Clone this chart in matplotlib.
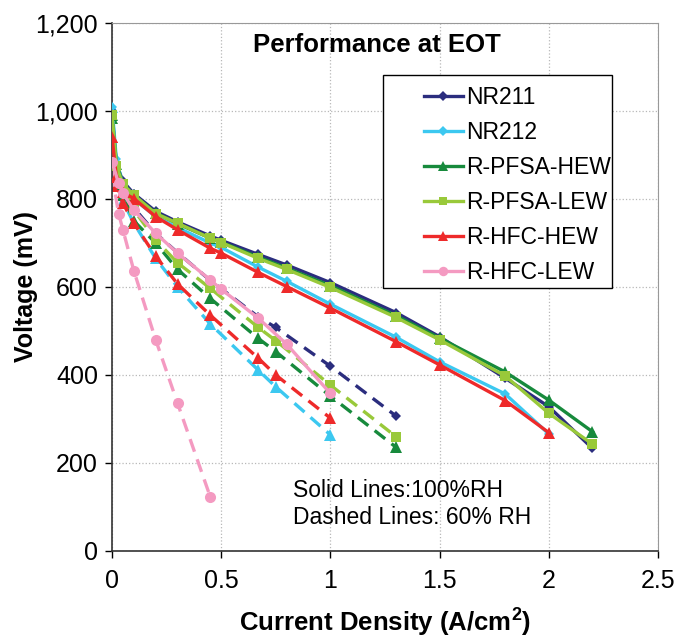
import matplotlib
matplotlib.use("Agg")
import matplotlib.pyplot as plt
from matplotlib.ticker import FuncFormatter, MultipleLocator
from matplotlib.lines import Line2D
from matplotlib.patches import Rectangle

plt.rcParams['font.family'] = ['Liberation Sans', 'DejaVu Sans']
plt.rcParams['mathtext.default'] = 'regular'

names = ["NR211", "NR212", "R-PFSA-HEW", "R-PFSA-LEW", "R-HFC-HEW", "R-HFC-LEW"]
colors = ["#2B2D7E", "#3CC8F0", "#178A3C", "#99C93A", "#EE2A2A", "#F49AC1"]
markers = ["D", "D", "^", "s", "^", "o"]

# 100% RH (solid)
x_solid = [
    [0, 0.02, 0.05, 0.1, 0.2, 0.3, 0.45, 0.5, 0.67, 0.8, 1.0, 1.3, 1.5, 1.8, 2.0, 2.2],
    [0, 0.02, 0.05, 0.1, 0.2, 0.3, 0.45, 0.5, 0.67, 0.8, 1.0, 1.3, 1.5, 1.8, 2.0],
    [0, 0.02, 0.05, 0.1, 0.2, 0.3, 0.45, 0.5, 0.67, 0.8, 1.0, 1.3, 1.5, 1.8, 2.0, 2.2],
    [0, 0.02, 0.05, 0.1, 0.2, 0.3, 0.45, 0.5, 0.67, 0.8, 1.0, 1.3, 1.5, 1.8, 2.0, 2.2],
    [0, 0.02, 0.05, 0.1, 0.2, 0.3, 0.45, 0.5, 0.67, 0.8, 1.0, 1.3, 1.5, 1.8, 2.0],
    [0, 0.03, 0.05, 0.1, 0.2, 0.3, 0.45, 0.5, 0.67, 0.8, 1.0],
]
v_solid = [
    [1000, 880, 840, 812, 772, 748, 716, 706, 674, 650, 610, 542, 487, 393, 328, 233],
    [1010, 890, 830, 800, 760, 735, 700, 690, 645, 613, 561, 486, 430, 357, 266],
    [990, 880, 835, 808, 768, 744, 711, 702, 668, 643, 603, 535, 484, 407, 343, 271],
    [991, 875, 833, 809, 767, 745, 711, 701, 665, 640, 599, 531, 480, 398, 313, 243],
    [942, 850, 815, 801, 760, 730, 688, 677, 633, 601, 552, 476, 423, 342, 269],
    [885, 836, 813, 775, 722, 677, 616, 595, 529, 470, 358],
]

# 60% RH (dashed)
x_dash = [
    [0, 0.02, 0.05, 0.1, 0.2, 0.3, 0.45, 0.67, 0.75, 1.0, 1.3],
    [0, 0.02, 0.05, 0.1, 0.2, 0.3, 0.45, 0.67, 0.75, 1.0],
    [0, 0.02, 0.05, 0.1, 0.2, 0.3, 0.45, 0.67, 0.75, 1.0, 1.3],
    [0, 0.02, 0.05, 0.1, 0.2, 0.3, 0.45, 0.67, 0.75, 1.0, 1.3],
    [0, 0.02, 0.05, 0.1, 0.2, 0.3, 0.45, 0.67, 0.75, 1.0],
    [0, 0.03, 0.05, 0.1, 0.2, 0.3, 0.45],
]
v_dash = [
    [995, 870, 820, 780, 722, 678, 615, 532, 508, 420, 307],
    [1010, 850, 795, 745, 665, 600, 516, 411, 373, 264],
    [985, 860, 810, 750, 700, 640, 574, 483, 453, 352, 236],
    [991, 865, 820, 775, 707, 655, 597, 508, 478, 377, 260],
    [942, 830, 790, 745, 670, 607, 536, 438, 400, 302],
    [858, 767, 730, 637, 480, 336, 123],
]
dash_markers = ["D", "^", "^", "s", "^", "o"]

W, H = 682, 639
fig = plt.figure(figsize=(W / 100, H / 100), dpi=100)
ax = fig.add_axes([112 / W, (H - 551) / H, (658 - 112) / W, (551 - 23) / H])

msize = {"D": 5.5, "^": 8, "s": 7, "o": 8}
for i in range(len(names)):
    ax.plot(x_dash[i], v_dash[i], color=colors[i], lw=2.4, dashes=(4, 2.4),
            marker=dash_markers[i], ms=msize[dash_markers[i]], markeredgewidth=0, zorder=2)
for i in range(len(names)):
    ax.plot(x_solid[i], v_solid[i], color=colors[i], lw=2.4,
            marker=markers[i], ms=msize[markers[i]], markeredgewidth=0, zorder=3)

ax.set_xlim(0, 2.5)
ax.set_ylim(0, 1200)
ax.xaxis.set_major_locator(MultipleLocator(0.5))
ax.yaxis.set_major_locator(MultipleLocator(200))
ax.xaxis.set_major_formatter(FuncFormatter(lambda v, p: "%g" % v))
ax.yaxis.set_major_formatter(FuncFormatter(lambda v, p: "{:,.0f}".format(v)))
ax.tick_params(labelsize=18, direction="out", length=5, width=1)
ax.tick_params(axis="x", pad=8)
ax.tick_params(axis="y", pad=5)
ax.grid(True, color="#B8B8B8", linestyle=":", linewidth=0.9)
ax.set_axisbelow(True)
for s in ["left", "bottom"]:
    ax.spines[s].set_color("#333333")
    ax.spines[s].set_linewidth(1.2)
for s in ["top", "right"]:
    ax.spines[s].set_color("#999999")
    ax.spines[s].set_linewidth(0.8)

ax.set_xlabel(r"Current Density (A/cm$^2$)", fontsize=18.5, fontweight="bold", labelpad=10)
ax.set_ylabel("Voltage (mV)", fontsize=18, fontweight="bold", labelpad=-2)

fig.text(253 / W, 1 - 45 / H, "Performance at EOT", fontsize=18.5,
         fontweight="bold", ha="left", va="center")
fig.text(293 / W, 1 - 504 / H, "Solid Lines:100%RH\nDashed Lines: 60% RH",
         fontsize=16.5, ha="left", va="center", linespacing=1.2)

# legend box drawn separately to get the wide left margin of the original
fig.patches.append(Rectangle((383 / W, 1 - 288 / H), (612 - 383) / W, (288 - 75) / H,
                             transform=fig.transFigure, facecolor="white",
                             edgecolor="black", linewidth=1.0, zorder=4))
handles = [Line2D([], [], color=colors[i], lw=2.4, marker=markers[i],
                  ms=msize[markers[i]] * 0.85, markeredgewidth=0) for i in range(len(names))]
leg = fig.legend(handles, names, loc="upper left", bbox_to_anchor=(424 / W, 1 - 86 / H),
                 fontsize=16.5, frameon=False, handlelength=1.7, handletextpad=0.15,
                 labelspacing=0.52, borderpad=0, borderaxespad=0)
leg.set_zorder(5)

fig.savefig("out.png", dpi=100)
